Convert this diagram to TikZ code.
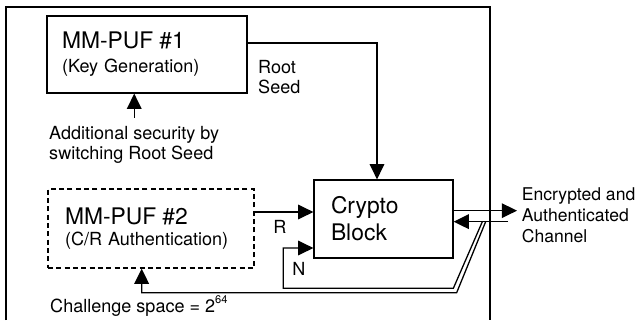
\documentclass[tikz,border=0pt]{standalone}
\usepackage{fontspec}
\setmainfont{TeX Gyre Heros}
\usetikzlibrary{arrows.meta}

\tikzset{
  blk/.style={draw, line width=1.1pt, align=left, inner xsep=0.45cm},
  arr/.style={line width=1.1pt, -{Triangle[length=13pt,width=12.5pt]}},
  lbl/.style={inner sep=0pt, align=left, font=\fontsize{15.4}{17}\selectfont},
}

\begin{document}
\begin{tikzpicture}
\useasboundingbox (0,0) rectangle (19.11,9.6);

% chip boundary, left open at the bottom
\draw[line width=1.3pt] (0.18,0) -- (0.18,9.39) -- (14.7,9.39) -- (14.7,0);

% the three blocks
\node[blk, minimum width=6cm, minimum height=2.31cm, text width=5.1cm,
      font=\fontsize{15.4}{20.5}\selectfont] (puf1) at (4.41,7.965)
      {{\fontsize{19.5}{20.5}\selectfont MM-PUF \#1}\\(Key Generation)};
\node[blk, dash pattern=on 0.15cm off 0.1cm, minimum width=6.18cm, minimum height=2.37cm,
      inner xsep=0.51cm, text width=5.16cm,
      font=\fontsize{15.4}{18.5}\selectfont] (puf2) at (4.53,2.745)
      {{\fontsize{19.5}{18.5}\selectfont MM-PUF \#2}\\(C/R Authentication)};
\node[blk, minimum width=4.17cm, minimum height=2.34cm, inner xsep=0.51cm, text width=3.15cm,
      font=\fontsize{19.5}{23}\selectfont] (crypto) at (11.505,3.03) {Crypto\\Block};

% labels
\node[lbl, anchor=north west] (seed) at (7.74,7.8) {Root\\Seed};
\node[lbl, anchor=north west] (note1) at (1.47,5.82) {Additional security by\\switching Root Seed};
\node[lbl, anchor=base west] (note2) at (1.5,0.225)
      {Challenge space = 2\raisebox{0.5em}{\fontsize{9.5}{9.5}\selectfont 64}};
\node[lbl] (rlab) at (8.4,2.8) {R};
\node[lbl] (nlab) at (8.97,1.545) {N};
\node[lbl, anchor=north west, font=\fontsize{15}{18}\selectfont] (chan) at (15.65,3.97)
      {Encrypted and\\Authenticated\\Channel};

\coordinate (chin) at (15.24,2.95);
\coordinate (j1) at (14.47,2.95);
\coordinate (j2) at (14.57,2.95);

% connections
\draw[arr] ([yshift=0.25cm]note1.north) -- (note1.north |- puf1.south);
\draw[arr] ([yshift=0.345cm]puf1.east) -| ([xshift=-0.195cm]crypto.north);
\draw[arr] ([yshift=0.495cm]puf2.east) -- ([yshift=0.495cm]puf2.east -| crypto.west);
\draw[arr] (j1) -- (13.6,0.95) -- (8.5,0.95) |- ([yshift=-0.87cm]crypto.west);
\draw[arr] (j2) -- (13.7,0.82) -| ([xshift=-0.28cm]puf2.south);
\draw[arr] (chin) -- (chin -| crypto.east);
\draw[arr, shorten >=0.14cm] ([yshift=0.25cm]crypto.east) -- ([yshift=0.25cm]crypto.east -| chan.west);

\end{tikzpicture}
\end{document}
